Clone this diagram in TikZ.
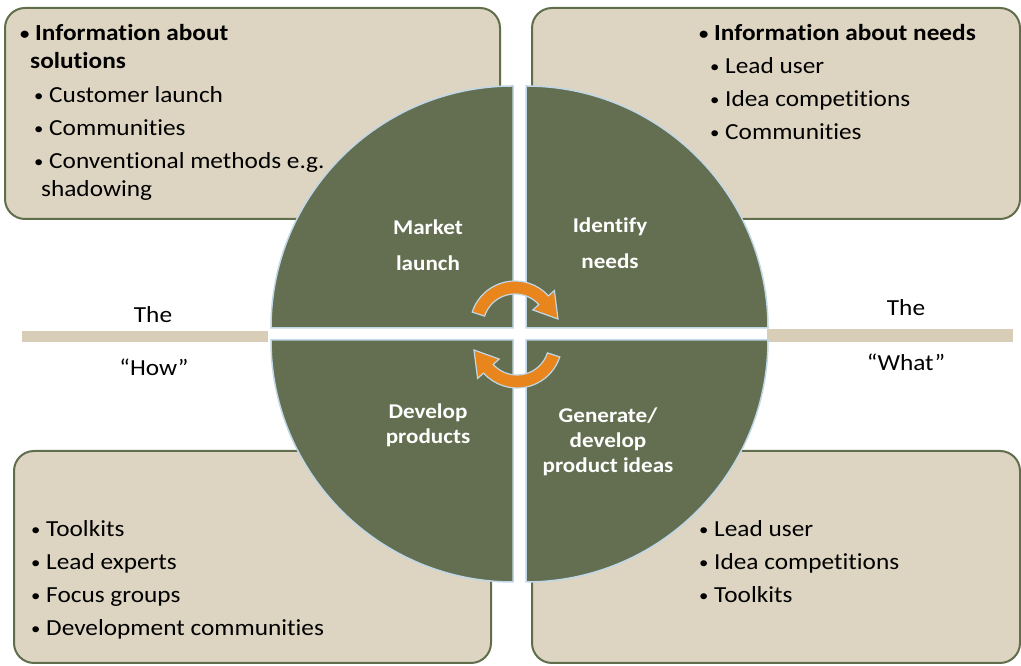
\documentclass[tikz,border=0pt]{standalone}
\usepackage{fontspec}
\setmainfont{Carlito}[FakeStretch=1.1, Ligatures=NoCommon]
\usepackage{tikz}

\definecolor{qgreen}{RGB}{99,111,80}
\definecolor{boxfill}{RGB}{221,213,194}
\definecolor{boxline}{RGB}{96,110,76}
\definecolor{barcol}{RGB}{216,205,182}
\definecolor{edgeblue}{RGB}{192,215,232}
\definecolor{arrorange}{RGB}{232,133,28}

\newcommand{\bul}{\raisebox{1.5pt}{\fontsize{17}{17}\selectfont•}~}

\begin{document}
\begin{tikzpicture}[x=1pt, y=1pt,
    box/.style={draw=boxline, fill=boxfill, line width=2, rounded corners=20},
    quad/.style={fill=qgreen, draw=edgeblue, line width=1.5},
    item/.style={anchor=base west, inner sep=0, font=\fontsize{23}{28}\selectfont},
    headitem/.style={item, font=\fontsize{23}{28}\selectfont\bfseries},
    side/.style={inner sep=0, font=\fontsize{23}{28}\selectfont},
    qlabel/.style={text=white, align=center, inner sep=0},
    swirl/.style={fill=arrorange, draw=edgeblue, line width=1.2}]

    \useasboundingbox (0,0) rectangle (1021,666);

    % boxes
    \draw[box] (5,447) rectangle (500,658);
    \draw[box] (532,447) rectangle (1020,658);
    \draw[box] (14,3) rectangle (491,215);
    \draw[box] (532,3) rectangle (1020,215);

    % bars
    \fill[barcol] (22,324) rectangle (268,335);
    \fill[barcol] (767,324) rectangle (1013,337);

    % circle quadrants
    \draw[quad] (513,338) -- (271,338) arc (180:90:242) -- cycle;
    \draw[quad] (526,338) -- (526,580) arc (90:0:242) -- cycle;
    \draw[quad] (513,326) -- (513,84) arc (270:180:242) -- cycle;
    \draw[quad] (526,326) -- (768,326) arc (0:-90:242) -- cycle;

    % circular arrows
\begin{scope}[shift={(515,340)}]
    \draw[swirl] (162:45) arc (162:42:45) -- (42:53) -- (43,7) -- (42:24) -- (42:32) arc (42:162:32) -- cycle;
\end{scope}
\begin{scope}[shift={(517,323)}, rotate=180]
    \draw[swirl] (162:45) arc (162:42:45) -- (42:53) -- (43,7) -- (42:24) -- (42:32) arc (42:162:32) -- cycle;
\end{scope}

    % quadrant labels
    \node[qlabel, font=\fontsize{21}{36}\selectfont\bfseries] (market) at (428,421) {Market\\launch};
    \node[qlabel, font=\fontsize{21}{36}\selectfont\bfseries] (identify) at (610,423) {Identify\\needs};
    \node[qlabel, font=\fontsize{21}{25}\selectfont\bfseries] (develop) at (428,241) {Develop\\products};
    \node[qlabel, font=\fontsize{21}{25}\selectfont\bfseries] (generate) at (608,224) {Generate/\\develop\\product ideas};

    % the how / the what
    \node[side] (howthe) at (153,351) {The};
    \node[side] (how) at (154,299) {“How”};
    \node[side] (whatthe) at (906,358) {The};
    \node[side] (what) at (906,304) {“What”};

    % top left
    \node[headitem] (solhead) at (20,625) {\bul Information about};
    \node[headitem] (solheadb) at (30,597) {solutions};
    \foreach \t [count=\i] in {Customer launch, Communities, Conventional methods e.g.}
        \node[item] (sol\i) at (34,{596-33*\i}) {\bul\t};
    \node[item] (solend) at (41,469) {shadowing};

    % top right
    \node[headitem] (needhead) at (699,625) {\bul Information about needs};
    \foreach \t [count=\i] in {Lead user, Idea competitions, Communities}
        \node[item] (need\i) at (710,{625-33*\i}) {\bul\t};

    % bottom left
    \foreach \t [count=\i] in {Toolkits, Lead experts, Focus groups, Development communities}
        \node[item] (dev\i) at (31,{162-33*\i}) {\bul\t};

    % bottom right
    \foreach \t [count=\i] in {Lead user, Idea competitions, Toolkits}
        \node[item] (gen\i) at (699,{162-33*\i}) {\bul\t};

\end{tikzpicture}
\end{document}
